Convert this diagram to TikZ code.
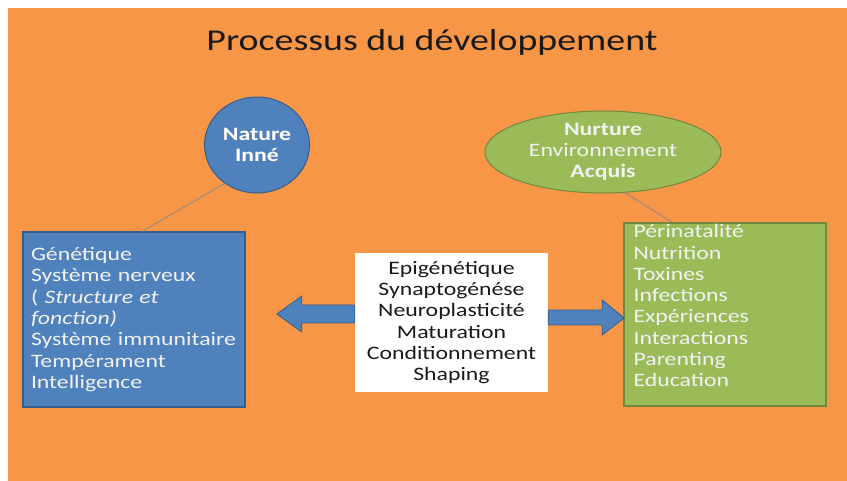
\documentclass[tikz,border=0pt]{standalone}
\usepackage{fontspec}
\setmainfont{Carlito}[FakeStretch=1.25]
\usetikzlibrary{shapes.geometric,calc}
\definecolor{bgorange}{HTML}{F79646}
\definecolor{accblue}{HTML}{4F81BD}
\definecolor{accblueD}{HTML}{385D8A}
\definecolor{accgreen}{HTML}{9BBB59}
\definecolor{accgreenD}{HTML}{71893F}
\definecolor{lighttxt}{HTML}{F2F2F2}
\definecolor{linkgray}{HTML}{8C8C8C}
\definecolor{titletxt}{HTML}{1A1A1A}
\tikzset{
  bodyfont/.style={font=\fontsize{19}{21.3}\selectfont},
  ovalA/.style={ellipse, fill=accblue, draw=accblueD, line width=1pt},
  ovalB/.style={ellipse, fill=accgreen, draw=accgreenD, line width=1pt},
  boxA/.style={rectangle, fill=accblue, draw=accblueD, line width=1.2pt},
  boxB/.style={rectangle, fill=accgreen, draw=accgreenD, line width=1.2pt},
  boxC/.style={rectangle, fill=white, draw=none},
  blockarrow/.style={fill=accblue, draw=accblueD, line width=0.8pt, line join=miter},
  link/.style={draw=linkgray, line width=0.9pt}
}
\begin{document}
\begin{tikzpicture}[x=1pt,y=-1pt]
\useasboundingbox (0,0) rectangle (847,481);
\fill[white] (0,0) rectangle (847,481);
\fill[bgorange] (8,8) rectangle (847,481);

\node[font=\fontsize{30.3}{36}\selectfont, text=titletxt, inner sep=0] (title) at (432,42) {Processus du développement};

\node[ovalA, minimum width=105, minimum height=96, inner sep=0, align=center,
      text=white, bodyfont] (nature) at (257,145) {\textbf{Nature}\\\textbf{Inné}};
\node[ovalB, minimum width=236, minimum height=80, inner sep=0, align=center,
      text=lighttxt, bodyfont] (nurture) at (603,152) {\textbf{Nurture}\\Environnement\\\textbf{Acquis}};

\node[boxA, minimum width=222, minimum height=175, text width=206, inner xsep=8, inner ysep=0,
      align=left, text=lighttxt, bodyfont] (leftbox) at (134,319.5)
  {Génétique\\Système nerveux\\( \textit{Structure et}\\\textit{fonction)}\\Système immunitaire\\Tempérament\\Intelligence};

\node[boxB, minimum width=202, minimum height=183, inner sep=0] (rightbox) at (725,314.5) {};
\node[anchor=north west, inner sep=0, align=left, text=lighttxt, bodyfont] (righttext)
  at ($(rightbox.north west)+(10,2)$)
  {Périnatalité\\Nutrition\\Toxines\\Infections\\Expériences\\Interactions\\Parenting\\Education};

\node[boxC, minimum width=193, minimum height=139, inner sep=0, align=center, text=titletxt, bodyfont]
  (midbox) at (451.5,322.5)
  {Epigénétique\\Synaptogénése\\Neuroplasticité\\Maturation\\Conditionnement\\Shaping};

\draw[link] (nature.230) -- ($(leftbox.north)+(8,0)$);
\draw[link] (nurture.298) -- ($(rightbox.north west)+(49,0)$);

% left block arrow
\draw[blockarrow] ($(midbox.west)+(0,-17.5)$) -- ++(-53,0) -- ++(0,-9) -- ++(-25,18) -- ++(25,18)
  -- ++(0,-9) -- ++(53,0) -- cycle;
% right block arrow
\draw[blockarrow] ($(midbox.east)+(0,-12.5)$) -- ++(54,0) -- ++(0,-10) -- ++(22,18) -- ++(-22,17)
  -- ++(0,-10) -- ++(-54,0) -- cycle;
\end{tikzpicture}
\end{document}
